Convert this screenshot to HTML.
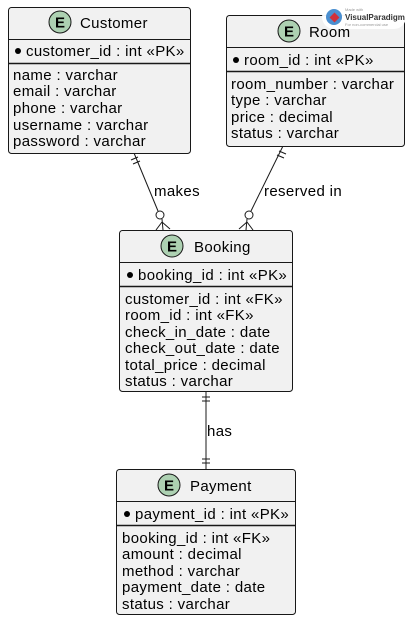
<!DOCTYPE html>
<html><head><meta charset="utf-8"><style>
html,body{margin:0;padding:0;background:#fff;width:410px;height:622px;overflow:hidden}
svg text{font-family:"Liberation Sans",sans-serif;font-size:15px;letter-spacing:0.35px;fill:#000}
</style></head><body>
<svg width="410" height="622" viewBox="0 0 410 622" xmlns="http://www.w3.org/2000/svg">
<g stroke="#181818" stroke-width="1" fill="none">
<line x1="134" y1="153" x2="158" y2="211"/>
<line x1="131" y1="160" x2="138" y2="157"/><line x1="133" y1="164" x2="140" y2="161"/>
<circle cx="160" cy="215" r="4" fill="#fff"/>
<line x1="162" y1="219" x2="163" y2="230"/><line x1="162" y1="222" x2="156" y2="230"/><line x1="162" y1="222" x2="170" y2="229"/>
<line x1="283" y1="146" x2="251" y2="211"/>
<line x1="279" y1="151" x2="286" y2="154"/><line x1="277" y1="155" x2="284" y2="158"/>
<circle cx="249" cy="215" r="4" fill="#fff"/>
<line x1="247" y1="219" x2="246" y2="230"/><line x1="247" y1="222" x2="239" y2="229"/><line x1="247" y1="222" x2="253" y2="230"/>
<line x1="206" y1="391" x2="206" y2="469"/>
<line x1="202" y1="397" x2="210" y2="397"/><line x1="202" y1="401" x2="210" y2="401"/>
<line x1="202" y1="459" x2="210" y2="459"/><line x1="202" y1="463" x2="210" y2="463"/>
</g>
<text x="154" y="196">makes</text>
<text x="264" y="196">reserved in</text>
<text x="207" y="436">has</text>

<g stroke="#181818" stroke-width="1">
<rect x="8.5" y="7.5" width="182" height="146" rx="3" fill="#f1f1f1"/>
<line x1="8.5" y1="39.5" x2="190.5" y2="39.5"/><line x1="8.5" y1="63.5" x2="190.5" y2="63.5" stroke-width="1.5"/>
<circle cx="60" cy="22" r="11" fill="#ADD1B2"/>
<rect x="226.5" y="15.5" width="178" height="131" rx="3" fill="#f1f1f1"/>
<line x1="226.5" y1="47.5" x2="404.5" y2="47.5"/><line x1="226.5" y1="71.5" x2="404.5" y2="71.5" stroke-width="1.5"/>
<circle cx="289" cy="31" r="11" fill="#ADD1B2"/>
<rect x="119.5" y="230.5" width="173" height="161" rx="3" fill="#f1f1f1"/>
<line x1="119.5" y1="262.5" x2="292.5" y2="262.5"/><line x1="119.5" y1="286.5" x2="292.5" y2="286.5" stroke-width="1.5"/>
<circle cx="172" cy="246" r="11" fill="#ADD1B2"/>
<rect x="116.5" y="469.5" width="179" height="145" rx="3" fill="#f1f1f1"/>
<line x1="116.5" y1="501.5" x2="295.5" y2="501.5"/><line x1="116.5" y1="525.5" x2="295.5" y2="525.5" stroke-width="1.5"/>
<circle cx="169" cy="485" r="11" fill="#ADD1B2"/>
</g>
<g text-anchor="middle">
<text x="60" y="27.5" style="font-size:15px;font-weight:bold;letter-spacing:0">E</text>
<text x="289" y="36.5" style="font-size:15px;font-weight:bold;letter-spacing:0">E</text>
<text x="172" y="251.5" style="font-size:15px;font-weight:bold;letter-spacing:0">E</text>
<text x="169" y="490.5" style="font-size:15px;font-weight:bold;letter-spacing:0">E</text>
</g>
<g fill="#000"><circle cx="18" cy="51" r="3"/><circle cx="236" cy="60" r="3"/><circle cx="130" cy="275" r="3"/><circle cx="127" cy="514" r="3"/></g>

<text x="80" y="28">Customer</text>
<text x="26" y="56">customer_id : int «PK»</text>
<text x="13" y="80">name : varchar</text>
<text x="13" y="96">email : varchar</text>
<text x="13" y="113">phone : varchar</text>
<text x="13" y="130">username : varchar</text>
<text x="13" y="146">password : varchar</text>

<text x="309" y="37">Room</text>
<text x="244" y="65">room_id : int «PK»</text>
<text x="231" y="89">room_number : varchar</text>
<text x="231" y="105">type : varchar</text>
<text x="231" y="122">price : decimal</text>
<text x="231" y="138">status : varchar</text>

<text x="194" y="252">Booking</text>
<text x="138" y="280">booking_id : int «PK»</text>
<text x="125" y="304">customer_id : int «FK»</text>
<text x="125" y="320">room_id : int «FK»</text>
<text x="125" y="337">check_in_date : date</text>
<text x="125" y="353">check_out_date : date</text>
<text x="125" y="370">total_price : decimal</text>
<text x="125" y="386">status : varchar</text>

<text x="190" y="491">Payment</text>
<text x="135" y="519">payment_id : int «PK»</text>
<text x="122" y="543">booking_id : int «FK»</text>
<text x="122" y="559">amount : decimal</text>
<text x="122" y="576">method : varchar</text>
<text x="122" y="592">payment_date : date</text>
<text x="122" y="609">status : varchar</text>

<rect x="322" y="5" width="84" height="24" rx="12" fill="#fff" opacity="0.95"/>
<circle cx="334" cy="17" r="8" fill="#4a8fd0"/>
<rect x="331" y="14" width="7" height="7" fill="#d0303a" transform="rotate(45 334.5 17.5)"/>
<text x="345" y="20" style="font-size:8px;font-weight:bold;fill:#333;letter-spacing:0">VisualParadigm</text>
<text x="345" y="11" style="font-size:4px;fill:#999;letter-spacing:0">Made with</text>
<text x="345" y="26" style="font-size:4px;fill:#999;letter-spacing:0">For non-commercial use</text>
</svg>
</body></html>
